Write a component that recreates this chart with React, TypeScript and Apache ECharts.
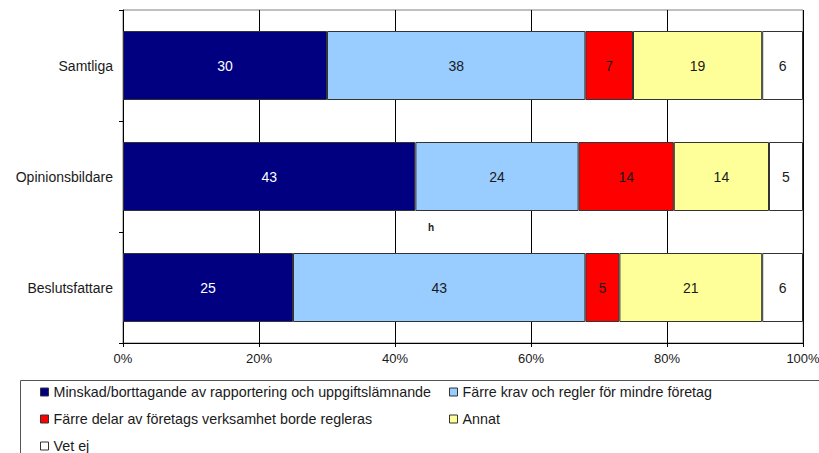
import React, { useEffect, useRef } from "react";
import * as echarts from "echarts";

const categories = ["Samtliga", "Opinionsbildare", "Beslutsfattare"];
const seriesNames = [
  "Minskad/borttagande av rapportering och uppgiftslämnande",
  "Färre krav och regler för mindre företag",
  "Färre delar av företags verksamhet borde regleras",
  "Annat",
  "Vet ej",
];
const minskad = [30, 43, 25];
const farreKrav = [38, 24, 43];
const farreDelar = [7, 14, 5];
const annat = [19, 14, 21];
const vetEj = [6, 5, 6];
const xTicks = [0, 20, 40, 60, 80, 100];

const seriesData = [minskad, farreKrav, farreDelar, annat, vetEj];
const colors = ["#000080", "#99CCFF", "#FF0000", "#FFFF99", "#FFFFFF"];
const labelColors = ["#ffffff", "#1a1a1a", "#1a1a1a", "#1a1a1a", "#1a1a1a"];
const FONT = "'Liberation Sans', Arial, sans-serif";

export default function App() {
  const ref = useRef<HTMLDivElement>(null);
  useEffect(() => {
    if (!ref.current) return;
    const chart = echarts.init(ref.current, undefined, { renderer: "svg" });
    const legendCommon = {
      orient: "vertical",
      top: 384,
      height: 90,
      padding: 0,
      itemWidth: 8,
      itemHeight: 8,
      itemGap: 11,
      icon: "rect",
      textStyle: { fontSize: 14.3, color: "#1a1a1a", fontFamily: FONT, lineHeight: 16 },
      itemStyle: { borderColor: "#333", borderWidth: 1 },
      selectedMode: false,
    };
    const option: any = {
      animation: false,
      textStyle: { fontFamily: FONT },
      grid: {
        left: 123,
        right: 16,
        top: 10,
        bottom: 110,
        show: true,
        borderColor: "#808080",
        borderWidth: 1,
        outerBoundsMode: "none",
        containLabel: false,
      },
      xAxis: {
        type: "value",
        min: xTicks[0],
        max: xTicks[xTicks.length - 1],
        interval: 20,
        axisLine: { show: true, lineStyle: { color: "#000", width: 1 } },
        axisTick: { show: true, length: 4, lineStyle: { color: "#000" } },
        axisLabel: {
          formatter: "{value}%",
          color: "#1a1a1a",
          fontSize: 13,
          fontFamily: FONT,
          margin: 9,
          hideOverlap: false,
        },
        splitLine: { show: true, lineStyle: { color: "#000", width: 1 } },
      },
      yAxis: {
        type: "category",
        inverse: true,
        data: categories,
        axisLine: { show: true, lineStyle: { color: "#000", width: 1 } },
        axisTick: { show: true, length: 4, lineStyle: { color: "#000" } },
        axisLabel: {
          color: "#1a1a1a",
          fontSize: 14,
          fontFamily: FONT,
          margin: 10,
        },
        splitLine: { show: false },
      },
      legend: [
        {
          ...legendCommon,
          left: 40,
          data: [seriesNames[0], seriesNames[2], seriesNames[4]],
        },
        {
          ...legendCommon,
          left: 449,
          data: [seriesNames[1], seriesNames[3]],
        },
      ],
      graphic: [
        {
          type: "rect",
          left: 18,
          top: 378,
          shape: { x: 0, y: 0, width: 805, height: 90 },
          style: { fill: "none", stroke: "#555", lineWidth: 1 },
          z: 0,
        },
        {
          type: "text",
          left: 428,
          top: 222,
          style: { text: "h", fontSize: 10, fontWeight: "bold", fill: "#222", fontFamily: FONT },
        },
      ],
      series: seriesData.map((d, i) => ({
        name: seriesNames[i],
        type: "bar",
        stack: "total",
        barWidth: 69,
        data: d,
        itemStyle: { color: colors[i], borderColor: "#333", borderWidth: 1 },
        label: {
          show: true,
          position: "inside",
          color: labelColors[i],
          fontSize: 14,
          fontFamily: FONT,
        },
        emphasis: { disabled: true },
      })),
    };
    chart.setOption(option);
    return () => chart.dispose();
  }, []);
  return (
    <div
      ref={ref}
      style={{ position: "absolute", left: 0, top: 0, width: 819, height: 453, overflow: "hidden" }}
    />
  );
}
